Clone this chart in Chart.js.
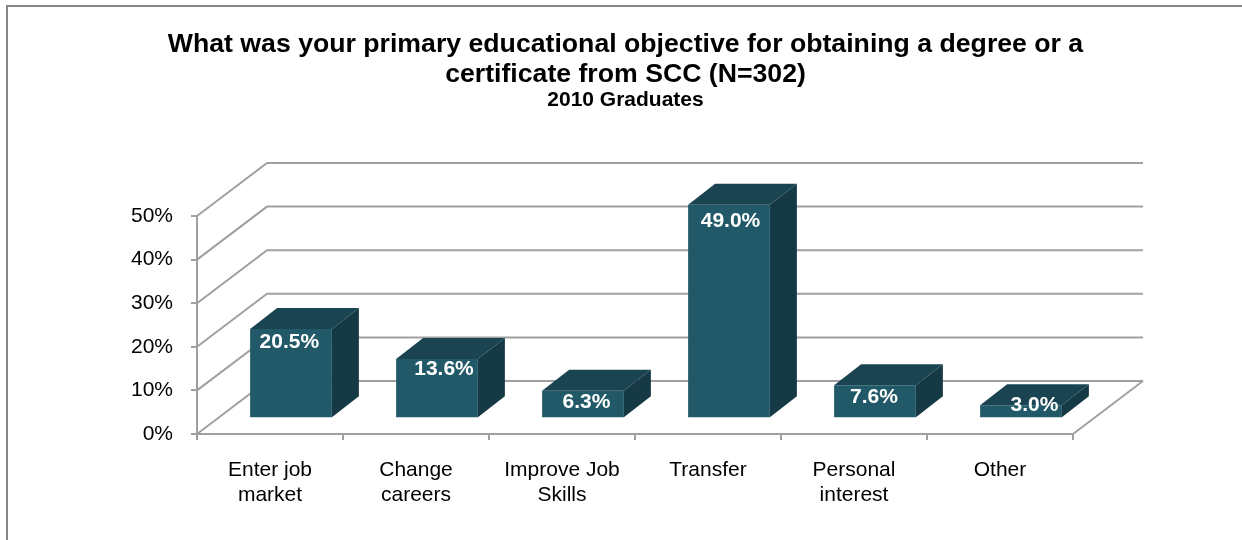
<!DOCTYPE html>
<html>
<head>
<meta charset="utf-8">
<script src="https://cdn.jsdelivr.net/npm/chart.js@4"></script>
<style>
    html, body { margin: 0; padding: 0; background: #fff; }
    #wrap { width: 1242px; height: 540px; }
</style>
</head>
<body>
<div id="wrap"><canvas id="chart" width="1242" height="540"></canvas></div>
<script>
const categories = [['Enter job', 'market'], ['Change', 'careers'], ['Improve Job', 'Skills'], 'Transfer', ['Personal', 'interest'], 'Other'];
const percentValues = [20.5, 13.6, 6.3, 49.0, 7.6, 3.0];
const titleLines = ['What was your primary educational objective for obtaining a degree or a', 'certificate from SCC (N=302)'];
const subtitleText = '2010 Graduates';

const fontName = '"Liberation Sans", Arial, sans-serif';
const wallDepth = { x: 70, y: -53 };
const barDepth = { x: 27, y: -21 };
const barShift = { x: 21, y: -15.7 };
const labelNudge = [[-1.7, 13.7], [7, 10], [3.4, 11], [1.5, 17], [-1, 12], [13.5, 0]];

const wallPlugin = {
    id: 'wall',
    beforeDraw: function (chart) {
        const ctx = chart.ctx;
        ctx.save();
        ctx.strokeStyle = '#868686';
        ctx.lineWidth = 2;
        ctx.beginPath();
        ctx.moveTo(7, 540);
        ctx.lineTo(7, 6);
        ctx.lineTo(1242, 6);
        ctx.stroke();
        ctx.restore();
    },
    beforeDatasetsDraw: function (chart) {
        const ctx = chart.ctx;
        const yScale = chart.scales.y;
        const area = chart.chartArea;
        ctx.save();
        ctx.strokeStyle = '#a0a0a0';
        ctx.lineWidth = 2;
        yScale.ticks.forEach(function (tick) {
            const y = yScale.getPixelForValue(tick.value);
            ctx.beginPath();
            ctx.moveTo(area.left, y);
            ctx.lineTo(area.left + wallDepth.x, y + wallDepth.y);
            ctx.lineTo(area.right + wallDepth.x, y + wallDepth.y);
            ctx.stroke();
        });
        ctx.beginPath();
        ctx.moveTo(area.right, area.bottom);
        ctx.lineTo(area.right + wallDepth.x, area.bottom + wallDepth.y);
        ctx.stroke();
        ctx.restore();
    },
    beforeDatasetDraw: function (chart) {
        const ctx = chart.ctx;
        ctx.save();
        ctx.translate(barShift.x, barShift.y);
        chart.getDatasetMeta(0).data.forEach(function (bar) {
            const half = bar.width / 2;
            const left = bar.x - half;
            const right = bar.x + half;
            ctx.fillStyle = '#1a4452';
            ctx.beginPath();
            ctx.moveTo(left, bar.y);
            ctx.lineTo(left + barDepth.x, bar.y + barDepth.y);
            ctx.lineTo(right + barDepth.x, bar.y + barDepth.y);
            ctx.lineTo(right, bar.y);
            ctx.closePath();
            ctx.fill();
            ctx.fillStyle = '#163a45';
            ctx.beginPath();
            ctx.moveTo(right, bar.y);
            ctx.lineTo(right + barDepth.x, bar.y + barDepth.y);
            ctx.lineTo(right + barDepth.x, bar.base + barDepth.y);
            ctx.lineTo(right, bar.base);
            ctx.closePath();
            ctx.fill();
        });
    },
    afterDatasetDraw: function (chart) {
        chart.ctx.restore();
    },
    afterDatasetsDraw: function (chart) {
        const ctx = chart.ctx;
        ctx.save();
        ctx.fillStyle = '#ffffff';
        ctx.font = 'bold 21px ' + fontName;
        ctx.textAlign = 'center';
        ctx.textBaseline = 'middle';
        chart.getDatasetMeta(0).data.forEach(function (bar, i) {
            const text = percentValues[i].toFixed(1) + '%';
            ctx.fillText(text, bar.x + barShift.x + labelNudge[i][0], bar.y + barShift.y + labelNudge[i][1]);
        });
        ctx.restore();
    }
};

new Chart(document.getElementById('chart'), {
    type: 'bar',
    data: {
        labels: categories,
        datasets: [{
            data: percentValues,
            backgroundColor: '#215968',
            barPercentage: 0.56,
            categoryPercentage: 1,
            clip: false
        }]
    },
    options: {
        responsive: false,
        animation: false,
        layout: { padding: { left: 9, right: 0, top: 29.3, bottom: 0 } },
        plugins: {
            legend: { display: false },
            tooltip: { enabled: false },
            title: {
                display: true,
                text: titleLines,
                color: '#000000',
                font: { family: fontName, size: 26.67, weight: 'bold', lineHeight: 1.14 },
                padding: { top: 0, bottom: 0 }
            },
            subtitle: {
                display: true,
                text: subtitleText,
                color: '#000000',
                font: { family: fontName, size: 21, weight: 'bold', lineHeight: 1 },
                padding: { top: 0, bottom: 104.9 }
            }
        },
        scales: {
            x: {
                afterFit: function (scale) { scale.height = 106; },
                grid: { drawOnChartArea: false, color: '#a0a0a0', lineWidth: 2, tickLength: 6 },
                border: { color: '#a0a0a0', width: 2 },
                ticks: { color: '#000000', font: { family: fontName, size: 21, lineHeight: 1.19 }, maxRotation: 0, padding: 18 }
            },
            y: {
                min: 0,
                max: 50,
                afterFit: function (scale) { scale.width = 188; },
                grid: { drawOnChartArea: false, color: '#a0a0a0', lineWidth: 2, tickLength: 6 },
                border: { color: '#a0a0a0', width: 2 },
                ticks: { stepSize: 10, color: '#000000', font: { family: fontName, size: 21 }, padding: 18, callback: function (v) { return v + '%'; } }
            },
            // empty axis, only keeps the plot clear of the right side so the title stays centred on the page
            spacer: {
                position: 'right',
                afterFit: function (scale) { scale.width = 169; },
                grid: { display: false },
                border: { display: false },
                ticks: { display: false }
            }
        }
    },
    plugins: [wallPlugin]
});
</script>
</body>
</html>
